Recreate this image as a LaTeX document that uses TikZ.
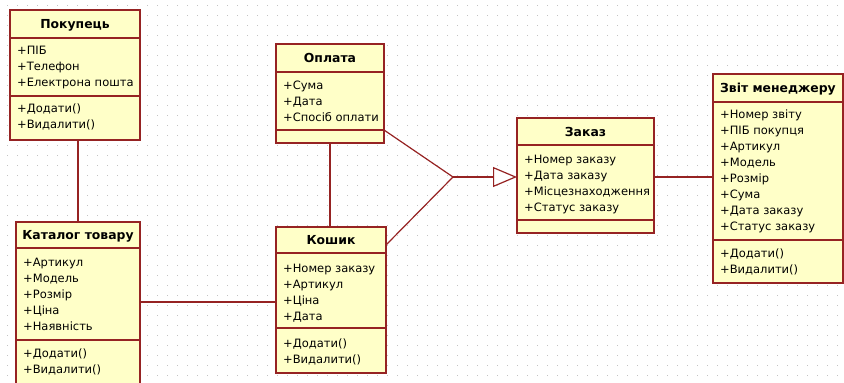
\documentclass[tikz,border=0pt]{standalone}
\usepackage{fontspec}
\setmainfont{DejaVu Sans}
\usetikzlibrary{arrows.meta}
\definecolor{boxfill}{RGB}{255,255,200}
\definecolor{boxline}{RGB}{150,35,35}
\definecolor{griddot}{RGB}{195,195,195}
\tikzset{
 classbox/.style={draw=boxline, fill=boxfill, line width=1.5pt, anchor=north west, inner sep=0pt, outer sep=0pt},
 sepline/.style={draw=boxline, line width=1.5pt},
 titletext/.style={font=\fontsize{12.4}{14}\selectfont\bfseries, inner sep=0pt, anchor=base},
 attr/.style={font=\fontsize{11.5}{14}\selectfont, inner sep=0pt, anchor=base west},
 link/.style={draw=boxline, line width=1.2pt},
 genarrow/.style={-{Triangle[length=24pt,width=20pt,fill=white]}},
}
\begin{document}
\begin{tikzpicture}[x=1pt,y=-1pt]
\useasboundingbox (0,0) rectangle (844,383);
\fill[white] (0,0) rectangle (844,383);
\foreach \x in {7,17,...,837} \foreach \y in {5,15,...,375} \fill[griddot] (\x-0.5,\y-0.5) rectangle ++(1,1);

% Покупець
\node[classbox, minimum width=130pt, minimum height=130pt] (pok) at (10,10) {};
\draw[sepline] (10,38) -- (140,38);
\draw[sepline] (10,96) -- (140,96);
\node[titletext] (pokt) at (75,28.5) {Покупець};
\foreach \t [count=\i from 0] in {+ПІБ,+Телефон,+Електрона пошта} \node[attr] (poka\i) at (17,54+16*\i) {\t};
\foreach \t [count=\i from 0] in {+Додати(),+Видалити()} \node[attr] (pokm\i) at (17,112+16*\i) {\t};

% Каталог товару
\node[classbox, minimum width=124pt, minimum height=180pt] (kat) at (16,222) {};
\draw[sepline] (16,248) -- (140,248);
\draw[sepline] (16,340) -- (140,340);
\node[titletext] (katt) at (78,239.5) {Каталог товару};
\foreach \t [count=\i from 0] in {+Артикул,+Модель,+Розмір,+Ціна,+Наявність} \node[attr] (kata\i) at (23,266+16*\i) {\t};
\foreach \t [count=\i from 0] in {+Додати(),+Видалити()} \node[attr] (katm\i) at (23,357+16*\i) {\t};

% Оплата
\node[classbox, minimum width=108pt, minimum height=99pt] (opl) at (276,44) {};
\draw[sepline] (276,72) -- (384,72);
\draw[sepline] (276,130) -- (384,130);
\node[titletext] (oplt) at (330,62.5) {Оплата};
\foreach \t [count=\i from 0] in {+Сума,+Дата,+Спосіб оплати} \node[attr] (opla\i) at (283,89+16*\i) {\t};

% Кошик
\node[classbox, minimum width=110pt, minimum height=146pt] (kosh) at (276,227) {};
\draw[sepline] (276,253) -- (386,253);
\draw[sepline] (276,328) -- (386,328);
\node[titletext] (kosht) at (331,244.5) {Кошик};
\foreach \t [count=\i from 0] in {+Номер заказу,+Артикул,+Ціна,+Дата} \node[attr] (kosha\i) at (283,272+16*\i) {\t};
\foreach \t [count=\i from 0] in {+Додати(),+Видалити()} \node[attr] (koshm\i) at (283,347+16*\i) {\t};

% Заказ
\node[classbox, minimum width=137pt, minimum height=115pt] (zak) at (517,118) {};
\draw[sepline] (517,145) -- (654,145);
\draw[sepline] (517,220) -- (654,220);
\node[titletext] (zakt) at (585.5,136) {Заказ};
\foreach \t [count=\i from 0] in {+Номер заказу,+Дата заказу,+Місцезнаходження,+Статус заказу} \node[attr] (zaka\i) at (524,163+16*\i) {\t};

% Звіт менеджеру
\node[classbox, minimum width=130pt, minimum height=209pt] (zvit) at (713,74) {};
\draw[sepline] (713,102) -- (843,102);
\draw[sepline] (713,240) -- (843,240);
\node[titletext] (zvitt) at (778,92.5) {Звіт менеджеру};
\foreach \t [count=\i from 0] in {+Номер звіту,+ПІБ покупця,+Артикул,+Модель,+Розмір,+Сума,+Дата заказу,+Статус заказу} \node[attr] (zvita\i) at (720,118+16*\i) {\t};
\foreach \t [count=\i from 0] in {+Додати(),+Видалити()} \node[attr] (zvitm\i) at (720,257+16*\i) {\t};

% connectors
\draw[link] (pok.south -| kat.north) -- (kat.north);
\draw[link] (opl.south) -- (opl.south |- kosh.north);
\coordinate (kp) at ([yshift=-80pt]kat.north east);
\draw[link] (kp) -- (kp -| kosh.west);
\coordinate (j) at (453,177);
\draw[link] ([yshift=13pt]opl.south east) -- (j);
\draw[link] ([yshift=-18pt]kosh.north east) -- (j);
\draw[link, genarrow] (j) -- (j -| zak.west);
\coordinate (zq) at ([yshift=-59pt]zak.north east);
\draw[link] (zq) -- (zq -| zvit.west);
\end{tikzpicture}
\end{document}
